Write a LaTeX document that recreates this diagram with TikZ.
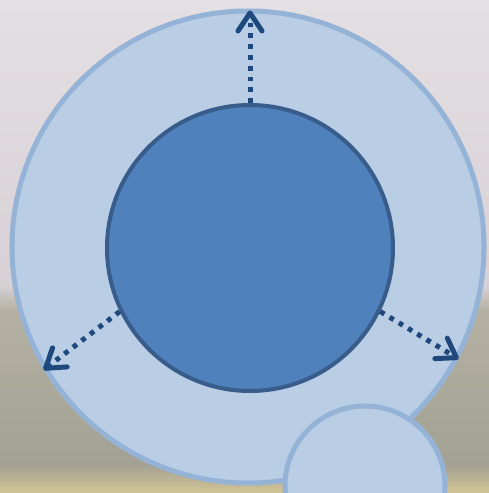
\documentclass[tikz,border=0pt]{standalone}
\usepackage{xcolor}
\usepackage{tikz}
\usetikzlibrary{arrows.meta, positioning, calc}
\definecolor{ringfill}{HTML}{B9CDE5}
\definecolor{ringline}{HTML}{95B3D7}
\definecolor{corefill}{HTML}{4F81BD}
\definecolor{coreline}{HTML}{385D8A}
\definecolor{spokeblue}{HTML}{1F497D}
\definecolor{skytop}{HTML}{E4DFE3}
\definecolor{skylow}{HTML}{D7D1D6}
\definecolor{fieldtop}{HTML}{B4B1A3}
\definecolor{fieldlow}{HTML}{A3A193}
\definecolor{sand}{HTML}{D3C595}

\begin{document}
\begin{tikzpicture}[
    x=0.5mm, y=-0.5mm,
    ring/.style={circle, draw=ringline, fill=ringfill, line width=2.5mm, inner sep=0pt, minimum size=236mm},
    core/.style={circle, draw=coreline, fill=corefill, line width=2mm, inner sep=0pt, minimum size=143mm},
    satellite/.style={circle, draw=ringline, fill=ringfill, line width=2.5mm, inner sep=0pt, minimum size=80mm},
    spoke/.style={draw=spokeblue, line width=2.5mm, dash pattern=on 2.4mm off 3mm,
        -{Straight Barb[length=9mm, width=12mm, line cap=round, line join=round]}}
]
    % Backdrop
    \useasboundingbox (0,0) rectangle (489,493);
    \shade[top color=skytop, bottom color=skylow] (0,0) rectangle (489,285);
    \shade[top color=skylow, bottom color=fieldtop] (0,285) rectangle (489,310);
    \shade[top color=fieldtop, bottom color=fieldlow] (0,310) rectangle (489,465);
    \shade[top color=fieldlow, bottom color=sand] (0,465) rectangle (489,493);

    % Circles
    \node[ring] (ring) at (248,247) {};
    \node[satellite] (moon) at (365,486) {};
    \node[core] (core) at (250,248) {};

    % Spokes
    \coordinate (topend) at (core.north |- ring.north);
    \draw[spoke] (core.north) -- ($(topend)+(0,2)$);
    \draw[spoke] (core.206.6) -- (ring.211.5);
    \draw[spoke] (core.-26.6) -- (ring.-28);
\end{tikzpicture}
\end{document}
